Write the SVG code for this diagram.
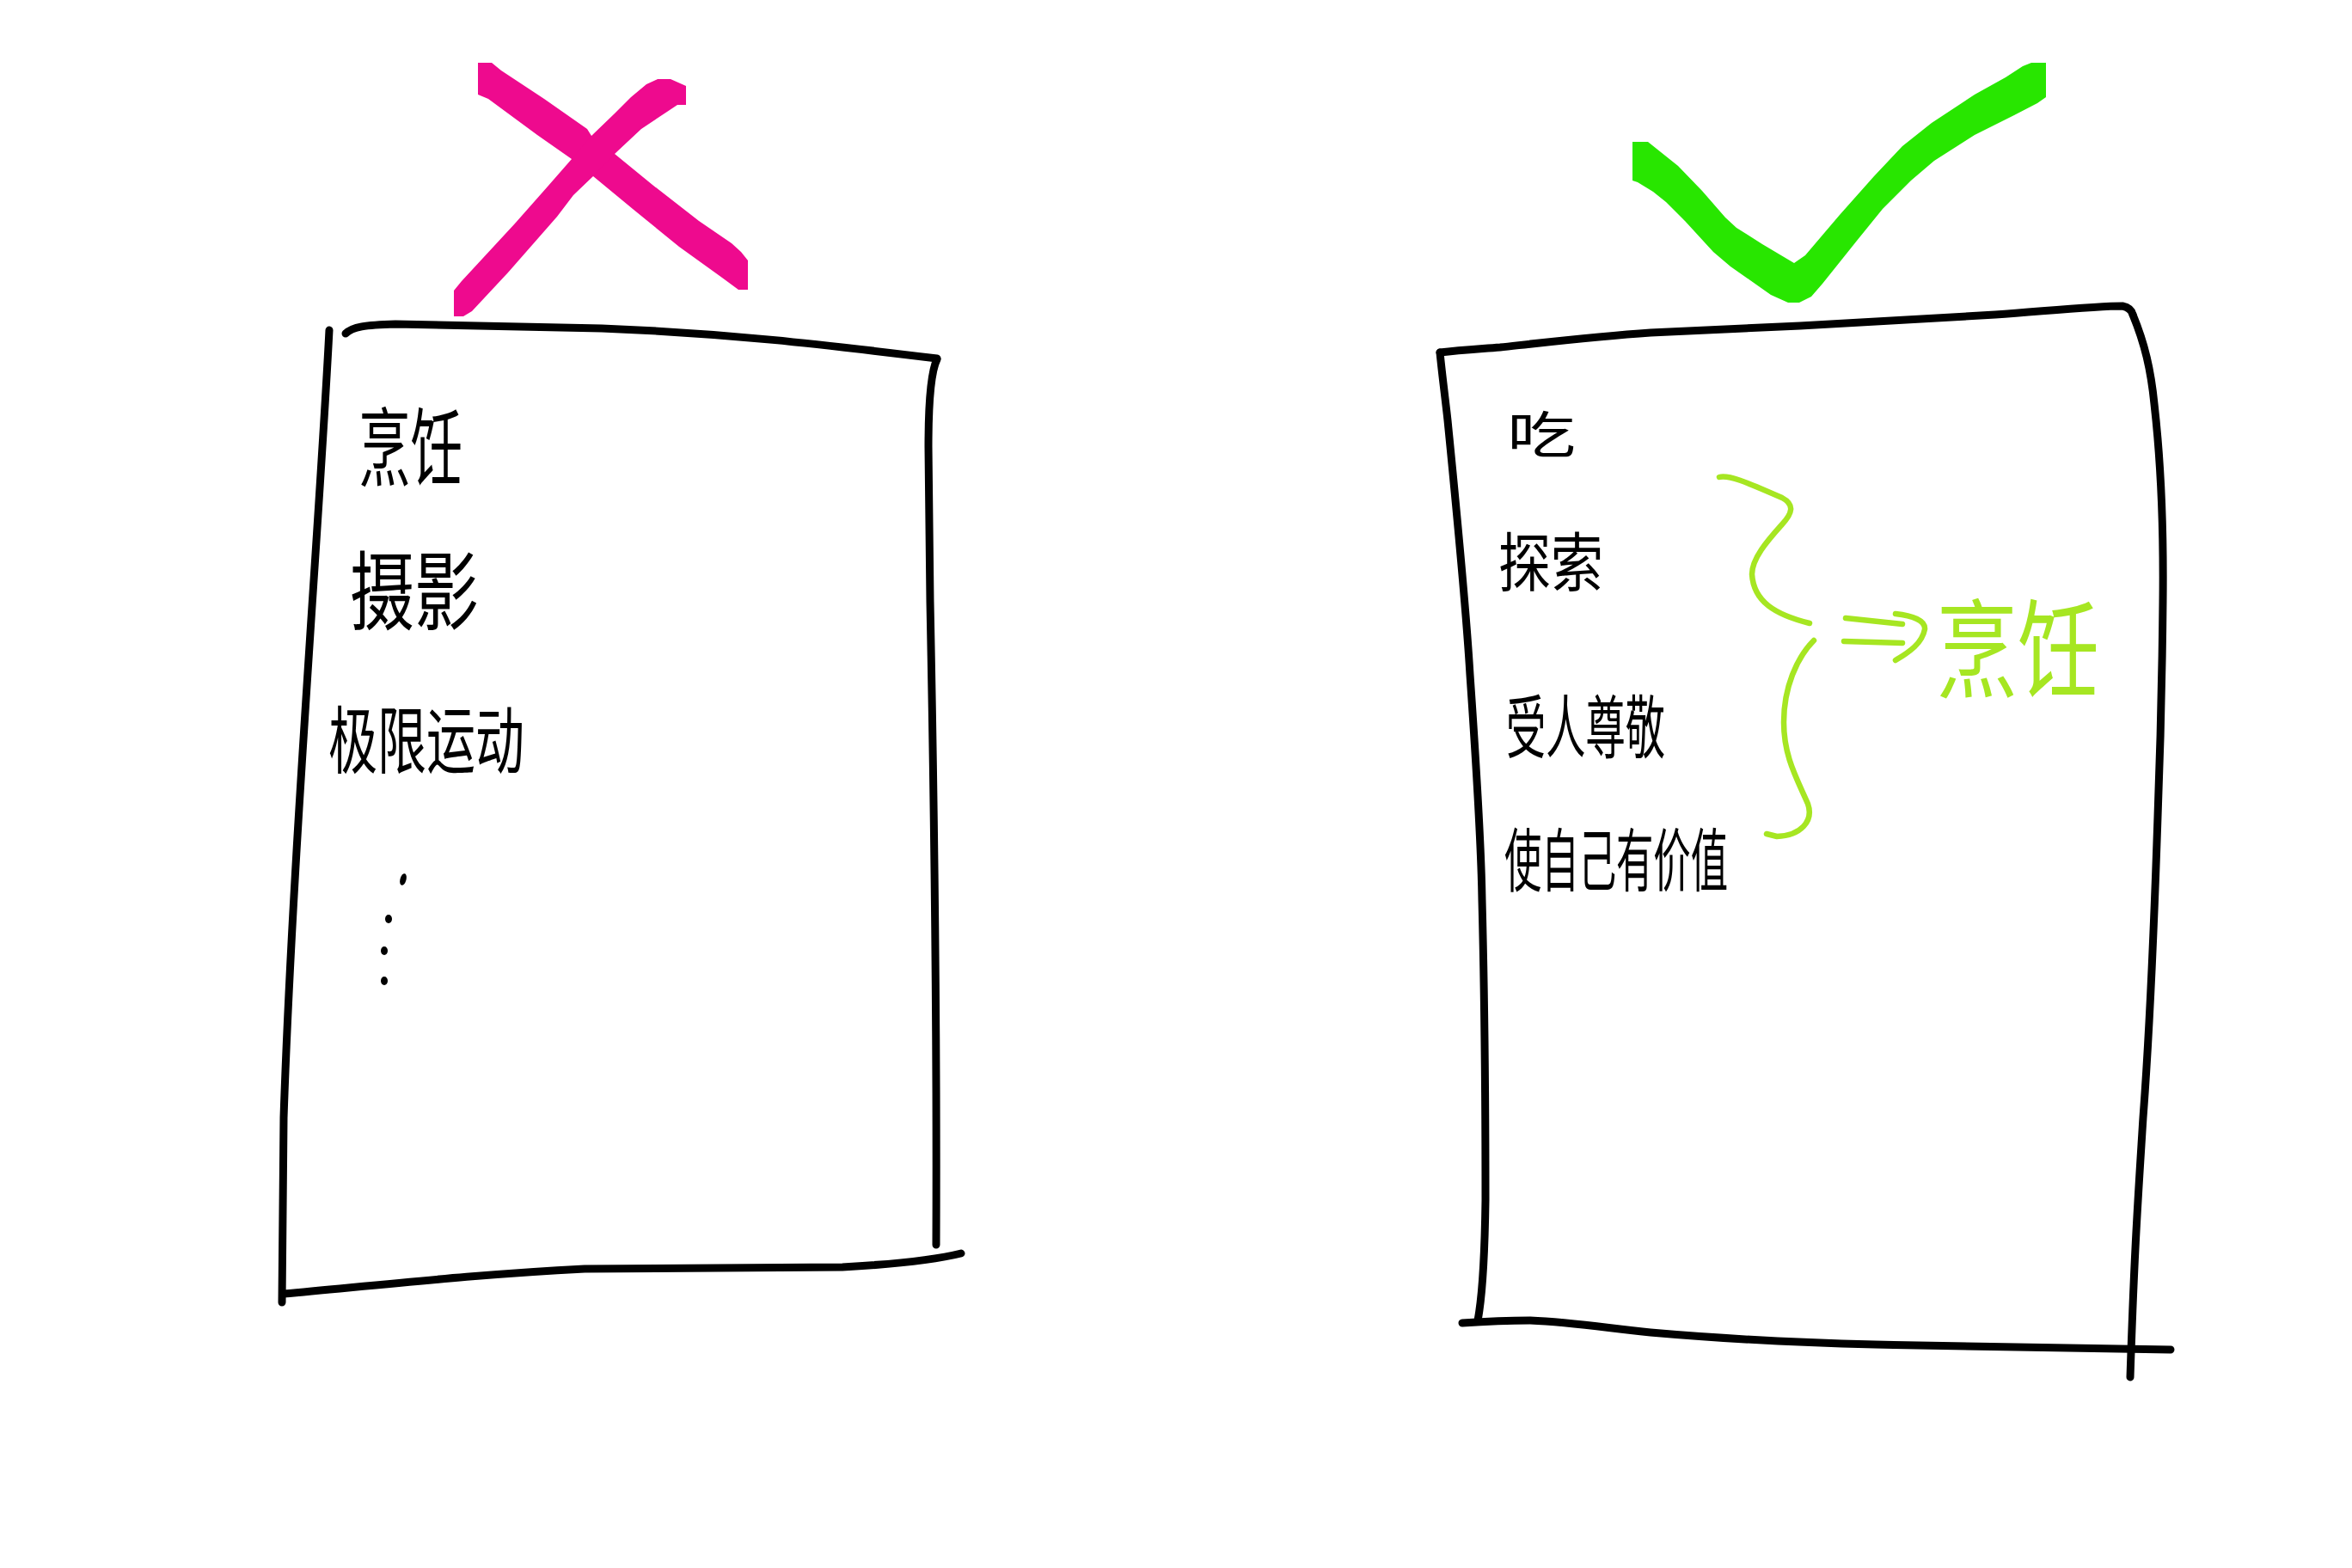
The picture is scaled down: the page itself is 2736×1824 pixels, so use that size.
<svg xmlns="http://www.w3.org/2000/svg" width="2736" height="1824" viewBox="0 0 2736 1824">
<style>
.frame{fill:none;stroke:#000;stroke-width:9;stroke-linecap:round;stroke-linejoin:round}
.brace{fill:none;stroke:#a6e622;stroke-width:6.5;stroke-linecap:round;stroke-linejoin:round}
.t{font-family:"Noto Sans CJK SC","Noto Sans",sans-serif;fill:#000}
.g{fill:#a6e622}
</style>
<rect width="2736" height="1824" fill="#fff"/>
<g id="wrong-mark">
<path fill="#ee0a8e" d="M556,73 L572,73 L583,82 L633,115 L683,150 L688,158 L715,179 L759,215 L813,257 L851,283 L862,293 L870,303 L870,337 L859,337 L840,323 L790,287 L736,243 L690,205 L665,185 L625,157 L568,115 L556,110 Z"/>
<path fill="#ee0a8e" d="M798,100 L780,92 L765,92 L752,98 L734,113 L715,132 L688,158 L665,185 L637,217 L599,260 L537,327 L528,338 L528,368 L539,368 L549,362 L591,317 L648,252 L667,227 L690,205 L715,179 L746,150 L776,130 L788,122 L798,122 Z"/>
</g>
<g id="right-mark">
<path fill="#28e600" d="M1899,165 L1917,165 L1927,173 L1952,193 L1980,222 L2007,253 L2020,265 L2050,284 L2087,306 L2100,297 L2140,250 L2180,205 L2213,170 L2247,143 L2297,110 L2333,90 L2353,77 L2363,73 L2380,73 L2380,113 L2370,120 L2343,134 L2297,157 L2250,187 L2223,210 L2190,243 L2160,280 L2120,330 L2107,345 L2093,352 L2080,352 L2060,343 L2013,310 L1993,293 L1960,257 L1938,235 L1923,223 L1905,212 L1899,210 Z"/>
</g>
<g id="left-list">
<path class="frame" d="M402,388 C410,380 425,378 460,377 L700,382 C850,388 950,400 1090,417"/>
<path class="frame" d="M1090,418 C1084,430 1080,460 1080,520 L1082,700 C1086,900 1090,1200 1089,1448"/>
<path class="frame" d="M383,384 C372,600 340,1000 330,1300 L328,1515"/>
<path class="frame" d="M330,1505 C450,1494 560,1482 680,1476 L980,1474 C1050,1470 1090,1465 1118,1458"/>
<text class="t" x="417" y="558" font-size="100" textLength="121" lengthAdjust="spacingAndGlyphs">烹饪</text>
<text class="t" x="407" y="725" font-size="100" textLength="150" lengthAdjust="spacingAndGlyphs">摄影</text>
<text class="t" x="382" y="893" font-size="85" textLength="228" lengthAdjust="spacingAndGlyphs">极限运动</text>
<ellipse cx="469" cy="1023" rx="3.5" ry="7" transform="rotate(15 469 1023)"/>
<ellipse cx="452" cy="1069" rx="4" ry="5"/>
<ellipse cx="447" cy="1106" rx="4" ry="5"/>
<ellipse cx="447" cy="1141" rx="4" ry="5"/>
</g>
<g id="right-list">
<path class="frame" d="M1675,410 C1700,407 1720,406 1745,404 C1800,398 1860,391 1920,387 L2094,379 L2321,366 C2400,360 2440,356 2469,356 Q2479,358 2481,366"/>
<path class="frame" d="M2481,366 C2495,400 2502,430 2506,470 C2514,540 2517,611 2516,700 C2515,800 2513,872 2510,950 C2505,1100 2499,1221 2493,1300 C2487,1396 2483,1450 2478,1602"/>
<path class="frame" d="M1675,410 C1678,440 1682,470 1684,489 C1695,600 1705,700 1710,785 C1718,900 1723,980 1724,1047 C1728,1200 1728,1300 1728,1396 C1727,1470 1724,1510 1719,1536"/>
<path class="frame" d="M1701,1539 C1730,1537 1760,1536 1780,1536 C1830,1538 1870,1545 1920,1550 C2000,1557 2100,1562 2181,1564 C2300,1567 2420,1569 2525,1570"/>
<text class="t" x="1753" y="527" font-size="58" textLength="80" lengthAdjust="spacingAndGlyphs">吃</text>
<text class="t" x="1743" y="682" font-size="75" textLength="122" lengthAdjust="spacingAndGlyphs">探索</text>
<text class="t" x="1752" y="875" font-size="80" textLength="185" lengthAdjust="spacingAndGlyphs">受人尊敬</text>
<text class="t" x="1750" y="1030" font-size="80" textLength="260" lengthAdjust="spacingAndGlyphs">使自己有价值</text>
</g>
<g id="summary">
<path class="brace" d="M2000,555 C2010,552 2030,560 2073,579 C2088,587 2085,597 2073,610 C2055,630 2038,650 2038,668 C2040,700 2065,715 2105,725"/>
<path class="brace" d="M2110,745 C2090,765 2075,800 2075,840 C2075,880 2090,905 2103,935 C2110,955 2095,972 2067,973 L2055,970"/>
<path class="brace" d="M2147,719 L2213,726 M2145,746 L2213,748 M2205,714 C2225,716 2240,722 2239,732 C2236,748 2222,758 2205,768"/>
<text class="t g" x="2252" y="802" font-size="125" textLength="190" lengthAdjust="spacingAndGlyphs">烹饪</text>
</g>
</svg>
